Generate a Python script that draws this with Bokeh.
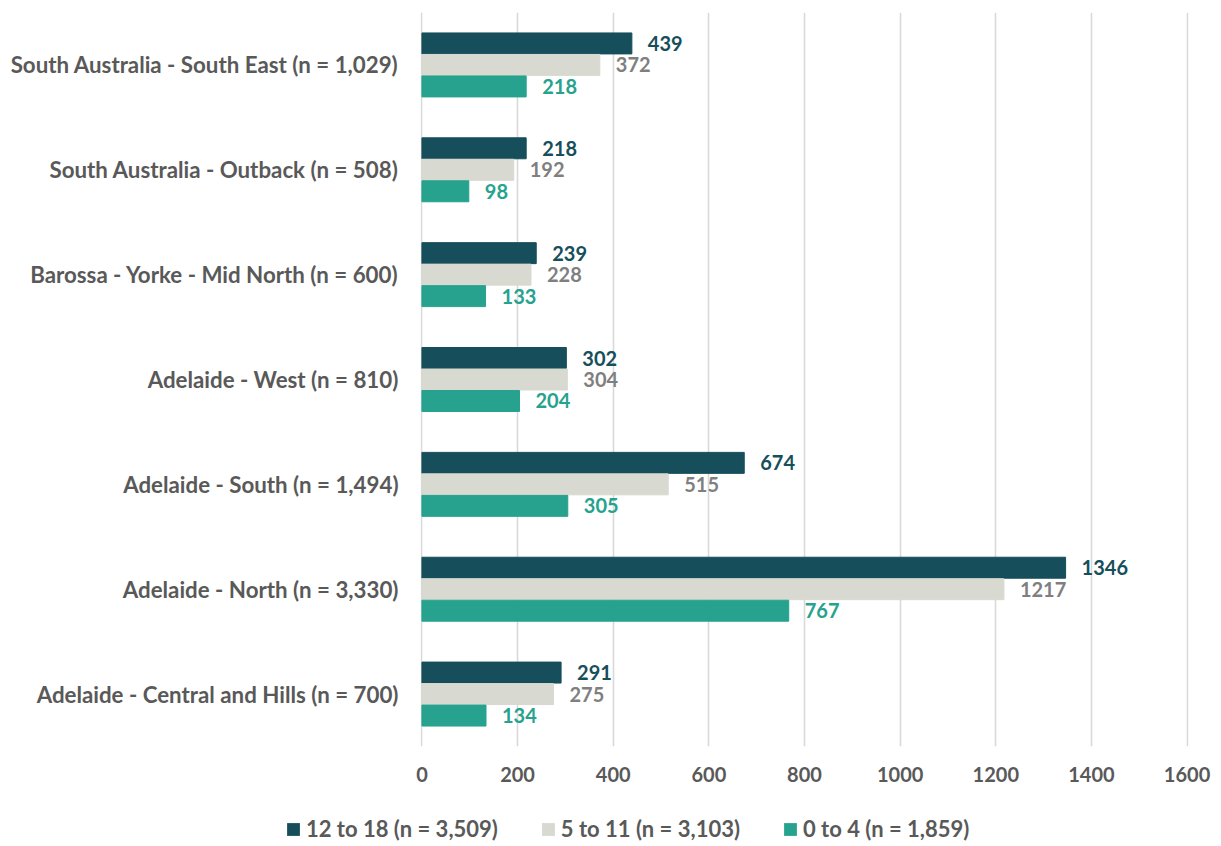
from bokeh.plotting import figure
from bokeh.layouts import column, row
from bokeh.models import ColumnDataSource, FactorRange, Range1d, Legend, LegendItem, FixedTicker
from bokeh.transform import dodge
from bokeh.core.properties import value
from bokeh.embed import file_html
from bokeh.resources import INLINE

# Regions listed bottom to top
regions = [
    "Adelaide - Central and Hills (n = 700)",
    "Adelaide - North (n = 3,330)",
    "Adelaide - South (n = 1,494)",
    "Adelaide - West (n = 810)",
    "Barossa - Yorke - Mid North (n = 600)",
    "South Australia - Outback (n = 508)",
    "South Australia - South East (n = 1,029)",
]
age_12_18 = [291, 1346, 674, 302, 239, 218, 439]
age_5_11 = [275, 1217, 515, 304, 228, 192, 372]
age_0_4 = [134, 767, 305, 204, 133, 98, 218]

series_names = ["12 to 18 (n = 3,509)", "5 to 11 (n = 3,103)", "0 to 4 (n = 1,859)"]
x_ticks = [0, 200, 400, 600, 800, 1000, 1200, 1400, 1600]

FONT = "Lato"
bar_colors = ["#164F5B", "#D8D9D0", "#26A28E"]
label_colors = ["#164F5B", "#7F7F7F", "#26A28E"]
offsets = [0.205, 0.0, -0.205]

# small padding on the value range so the 0 and 1600 grid lines are not clipped
p = figure(
    width=1221, height=800,
    y_range=FactorRange(*regions, range_padding=0),
    x_range=Range1d(-3, 1603),
    output_backend="svg", toolbar_location=None,
    min_border_left=420, min_border_right=33,
    min_border_top=12, min_border_bottom=54,
)
p.outline_line_color = None
p.background_fill_color = "white"
p.border_fill_color = "white"

p.ygrid.grid_line_color = None
p.xgrid.grid_line_color = "#D9D9D9"
p.xgrid.grid_line_width = 1.6
p.xaxis.ticker = FixedTicker(ticks=x_ticks)

for ax in (p.xaxis, p.yaxis):
    ax.axis_line_color = None
    ax.major_tick_line_color = None
    ax.minor_tick_line_color = None
    ax.major_tick_out = 0
    ax.major_tick_in = 0
    ax.minor_tick_out = 0
    ax.major_label_text_font = FONT
    ax.major_label_text_font_style = "bold"
    ax.major_label_text_color = "#595959"
p.xaxis.major_label_text_font_size = "20px"
p.yaxis.major_label_text_font_size = "22.3px"
p.xaxis.major_label_standoff = 20
p.yaxis.major_label_standoff = 22

values = [age_12_18, age_5_11, age_0_4]
for vals, bc, lc, off in zip(values, bar_colors, label_colors, offsets):
    src = ColumnDataSource(dict(region=regions, v=vals, txt=[str(v) for v in vals]))
    p.hbar(y=dodge("region", off, range=p.y_range), right="v", left=0,
           height=0.2, source=src, fill_color=bc, line_color=bc)
    p.text(x="v", y=dodge("region", off, range=p.y_range), text="txt", source=src,
           x_offset=16, text_align="left", text_baseline="middle",
           text_font=value(FONT), text_font_style="bold", text_font_size="20px",
           text_color=lc)

# Legend strip underneath the chart; zero-length bars only supply the swatch styles
lg = figure(
    width=1221, height=46, x_range=Range1d(0, 1), y_range=Range1d(0, 1),
    x_axis_type=None, y_axis_type=None,
    output_backend="svg", toolbar_location=None,
    min_border_left=0, min_border_right=0, min_border_top=0, min_border_bottom=0,
)
lg.outline_line_color = None
lg.grid.visible = False
swatches = [lg.hbar(y=[0.5], left=[0], right=[0], height=0.5, fill_color=c, line_color=None)
            for c in bar_colors]

legend = Legend(
    items=[LegendItem(label=n, renderers=[r]) for n, r in zip(series_names, swatches)],
    orientation="horizontal", location=(285, 4),
    border_line_color=None, background_fill_alpha=0,
    label_text_font=FONT, label_text_font_style="bold", label_text_font_size="22px",
    label_text_color="#595959", glyph_width=16, glyph_height=16,
    label_standoff=5, spacing=42, padding=0, margin=0,
)
lg.add_layout(legend, "center")

layout = column(p, row(lg), spacing=0)
open("out.html", "w").write(file_html(layout, INLINE))
